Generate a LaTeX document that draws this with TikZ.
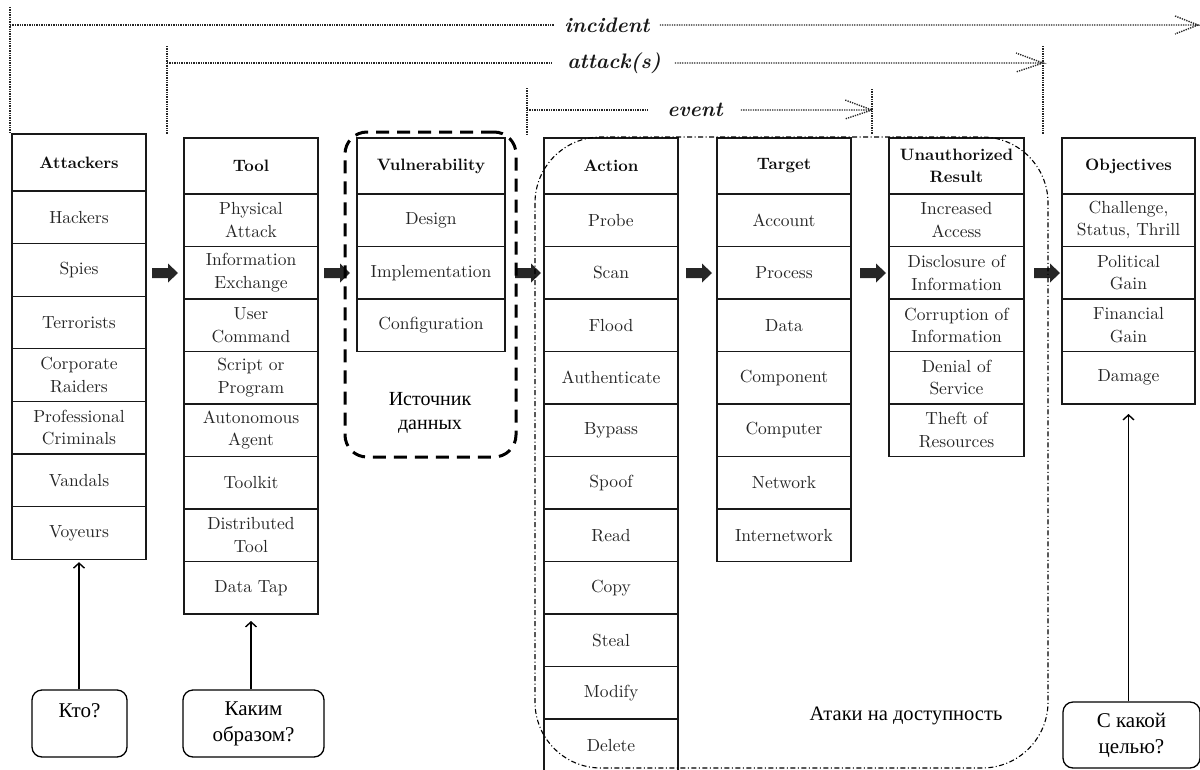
\documentclass[tikz,border=0pt]{standalone}
\usepackage{fontspec}
\setmainfont{lmroman10}[Extension=.otf, UprightFont=*-regular, BoldFont=*-bold, ItalicFont=*-italic, BoldItalicFont=*-bolditalic]
\newfontfamily\rufont{Liberation Serif}
\usetikzlibrary{arrows.meta}
\newcommand\barr[2]{\fill[black!85] (#1,#2) -- ++(0,-5) -- ++(16,0) -- ++(0,-4.5) -- ++(10,9.5) -- ++(-10,9.5) -- ++(0,-4.5) -- ++(-16,0) -- cycle;}
\begin{document}
\begin{tikzpicture}[x=1pt,y=-1pt,
  cell/.style={draw=black!90, line width=1.3pt, anchor=north west, inner sep=0pt, outer sep=0pt, align=center, minimum height=52.5pt, font=\fontsize{17.5}{22.5}\selectfont, text=black!85},
  head/.style={draw=black!90, line width=2.6pt, anchor=north west, inner sep=0pt, outer sep=0pt, align=center, minimum height=56pt, font=\bfseries\fontsize{16.5}{21.5}\selectfont, text=black!95},
  dots/.style={draw=black!85, line width=1.4pt, dash pattern=on 1.3pt off 1.1pt},
  lbl/.style={font=\bfseries\itshape\fontsize{21}{26}\selectfont, text=black!90, inner sep=10pt},
  qbox/.style={draw, line width=1.3pt, rounded corners=10pt, align=center, font=\rufont\fontsize{21}{26}\selectfont, inner sep=0pt},
  up/.style={draw, line width=1.4pt, -{Straight Barb[length=5pt,width=11pt]}},
  dashdot/.style={draw=black, line width=1.1pt, dash pattern=on 5pt off 2.5pt on 1pt off 2.5pt}]
\useasboundingbox (0,0) rectangle (1200,769);

% ---- top spans ----
\coordinate (incT) at (10,7);
\coordinate (incL) at (10,25);
\coordinate (incB) at (10,134);
\coordinate (incR) at (1198,25);
\node[lbl] (inc) at (607,25) {incident};
\draw[dots] (incT) -- (incB);
\draw[dots] (incL) -- (inc.west);
\draw[dots] (inc.east) -- (incR) -- ++(-23,-9) (incR) -- ++(-23,9);

\coordinate (attT) at (167,46);
\coordinate (attL) at (167,63);
\coordinate (attB) at (167,134);
\coordinate (attRT) at (1043,46);
\coordinate (attR) at (1043,63);
\coordinate (attRB) at (1043,134);
\node[lbl, inner sep=14pt] (atk) at (614,63) {attack(s)};
\draw[dots] (attT) -- (attB);
\draw[dots] (attRT) -- (attRB);
\draw[dots] (attL) -- (atk.west);
\draw[dots] (atk.east) -- (attR) -- ++(-27,-10) (attR) -- ++(-27,9);

\coordinate (evT) at (527,88);
\coordinate (evL) at (527,110);
\coordinate (evB) at (527,134);
\coordinate (evRT) at (872,89);
\coordinate (evR) at (872,110);
\coordinate (evRB) at (872,134);
\node[lbl, inner sep=18pt] (ev) at (695,110) {event};
\draw[dots] (evT) -- (evB);
\draw[dots] (evRT) -- (evRB);
\draw[dots] (evL) -- (ev.west);
\draw[dots] (ev.east) -- (evR) -- ++(-27,-10) (evR) -- ++(-27,9);

% ---- Attackers ----
\foreach \t [count=\i] in {Hackers,Spies,Terrorists,{Corporate\\Raiders},{Professional\\Criminals},Vandals,Voyeurs}
  \node[cell, minimum width=134pt, minimum height=52.6pt] (att\i) at (12,{191+52.6*(\i-1)}) {\t};
\node[head, minimum width=134pt, minimum height=57pt] (atth) at (12,134) {Attackers};

% ---- Tool ----
\foreach \t [count=\i] in {{Physical\\Attack},{Information\\Exchange},{User\\Command},{Script or\\Program},{Autonomous\\Agent},Toolkit,{Distributed\\Tool},Data Tap}
  \node[cell, minimum width=134pt] (tool\i) at (184,{194+52.5*(\i-1)}) {\t};
\node[head, minimum width=134pt] (toolh) at (184,138) {Tool};

% ---- Vulnerability ----
\foreach \t [count=\i] in {Design,Implementation,Configuration}
  \node[cell, minimum width=148pt] (vul\i) at (357,{194+52.5*(\i-1)}) {\t};
\node[head, minimum width=148pt] (vulh) at (357,138) {Vulnerability};

% ---- Action ----
\foreach \t [count=\i] in {Probe,Scan,Flood,Authenticate,Bypass,Spoof,Read,Copy,Steal,Modify,Delete}
  \node[cell, minimum width=134pt] (act\i) at (544,{194+52.5*(\i-1)}) {\t};
\node[head, minimum width=134pt] (acth) at (544,138) {Action};

% ---- Target ----
\foreach \t [count=\i] in {Account,Process,Data,Component,Computer,Network,Internetwork}
  \node[cell, minimum width=134pt] (tgt\i) at (717,{194+52.5*(\i-1)}) {\t};
\node[head, minimum width=134pt] (tgth) at (717,138) {Target};

% ---- Unauthorized Result ----
\foreach \t [count=\i] in {{Increased\\Access},{Disclosure of\\Information},{Corruption of\\Information},{Denial of\\Service},{Theft of\\Resources}}
  \node[cell, minimum width=135pt] (ur\i) at (889,{194+52.5*(\i-1)}) {\t};
\node[head, minimum width=135pt] (urh) at (889,138) {Unauthorized\\Result};

% ---- Objectives ----
\foreach \t [count=\i] in {{Challenge,\\Status, Thrill},{Political\\Gain},{Financial\\Gain},Damage}
  \node[cell, minimum width=133pt] (obj\i) at (1062,{194+52.5*(\i-1)}) {\t};
\node[head, minimum width=133pt] (objh) at (1062,138) {Objectives};

% ---- block arrows ----
\barr{152}{273}
\barr{324}{273}
\barr{515}{273}
\barr{686}{273}
\barr{860}{273}
\barr{1034}{273}

% ---- data source dashed box ----
\node[draw, line width=3pt, dash pattern=on 13pt off 8pt, rounded corners=22pt, minimum width=171pt, minimum height=325pt, inner sep=0pt] (src) at (430.5,294.5) {};
\node[font=\rufont\fontsize{20}{24}\selectfont, align=center] (srct) at (430,413) {Источник\\данных};

% ---- availability attacks region ----
\draw[dashdot, rounded corners=66pt] (535,137) rectangle (1048,768);
\node[font=\rufont\fontsize{20.5}{24}\selectfont] (dos) at (906,716) {Атаки на доступность};

% ---- question boxes ----
\node[qbox, minimum width=95pt, minimum height=67pt] (kto) at (79.5,723.5) {Кто?\\\mbox{}};
\node[qbox, minimum width=141pt, minimum height=67pt] (kak) at (253.5,723.5) {Каким\\образом?};
\node[qbox, minimum width=137pt, minimum height=66pt] (cel) at (1131.5,735) {С какой\\целью?};

\draw[up] (kto.north -| att7.south) -- ([yshift=-3pt]att7.south);
\draw[up] (kak.north -| tool8.south) -- ([yshift=-7pt]tool8.south);
\draw[up] (cel.north -| obj4.south) -- ([yshift=-10pt]obj4.south);
\end{tikzpicture}
\end{document}
